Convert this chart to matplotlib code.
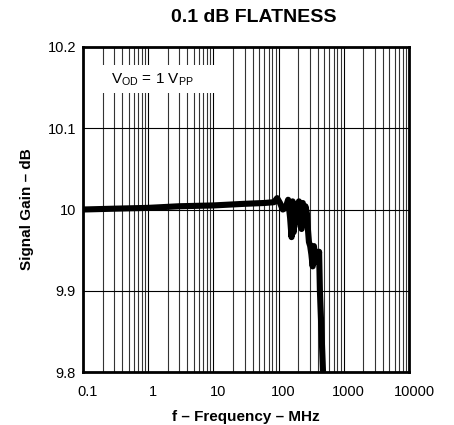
import matplotlib
matplotlib.use("Agg")
import matplotlib.pyplot as plt
import matplotlib.transforms as mtransforms
from matplotlib.patches import Rectangle
from matplotlib.ticker import FixedLocator, LogLocator, NullFormatter

plt.rcParams['font.family'] = ['Liberation Sans', 'DejaVu Sans']
plt.rcParams['mathtext.fontset'] = 'custom'
plt.rcParams['mathtext.rm'] = 'Liberation Sans'
plt.rcParams['mathtext.it'] = 'Liberation Sans'

# Data
freq_mhz = [0.1, 0.3, 1, 3, 10, 30, 60, 85, 95, 105, 116, 128, 140, 150, 158, 164,
            170, 176, 184, 195, 205, 215, 225, 235, 245, 258, 272, 282, 292, 305,
            318, 333, 348, 365, 385, 405, 418, 430, 480]
gain_db = [10.000, 10.001, 10.002, 10.004, 10.005, 10.007, 10.008, 10.009, 10.014,
           10.008, 10.000, 10.002, 10.012, 9.990, 9.966, 10.010, 9.972, 10.006,
           9.985, 10.002, 10.010, 9.980, 9.976, 10.008, 9.990, 10.004, 9.995,
           9.975, 9.960, 9.955, 9.945, 9.930, 9.955, 9.940, 9.948, 9.935, 9.948,
           9.900, 9.800]

x_ticks = [0.1, 1, 10, 100, 1000, 10000]
x_tick_labels = ['0.1', '1', '10', '100', '1000', '10000']
y_ticks = [9.8, 9.9, 10.0, 10.1, 10.2]
y_tick_labels = ['9.8', '9.9', '10', '10.1', '10.2']

fig = plt.figure(figsize=(4.54, 4.25), dpi=100)
ax = fig.add_axes([83/454, 1 - 372/425, 326/454, 325/425])

ax.set_xscale('log')
ax.set_xlim(0.1, 10000)
ax.set_ylim(9.8, 10.2)

ax.xaxis.set_major_locator(FixedLocator(x_ticks))
ax.set_xticklabels(x_tick_labels)
ax.xaxis.set_minor_locator(LogLocator(base=10, subs=range(2, 10), numticks=100))
ax.xaxis.set_minor_formatter(NullFormatter())
ax.set_yticks(y_ticks)
ax.set_yticklabels(y_tick_labels)

ax.grid(True, which='major', axis='both', color='black', linewidth=0.8)
ax.grid(True, which='minor', axis='x', color='#333333', linewidth=0.8)
ax.set_axisbelow(True)

ax.tick_params(axis='both', which='both', length=0, labelsize=10.5)
ax.tick_params(axis='x', pad=9)
ax.tick_params(axis='y', pad=5)

offset = mtransforms.ScaledTranslation(5/100, 0, fig.dpi_scale_trans)
for lab in ax.get_xticklabels():
    lab.set_transform(lab.get_transform() + offset)

for sp in ax.spines.values():
    sp.set_linewidth(2.0)
    sp.set_color('black')

# white label box
ax.add_patch(Rectangle((0.004, 0.858), 0.43, 0.087, transform=ax.transAxes,
                       facecolor='white', edgecolor='none', zorder=1.5))
ax.text(0.213, 0.9, r'V$_{\mathrm{OD}}$ = 1 V$_{\mathrm{PP}}$', transform=ax.transAxes,
        ha='center', va='center', fontsize=11, zorder=3)

ax.plot(freq_mhz, gain_db, color='black', linewidth=4.4,
        solid_joinstyle='round', solid_capstyle='round', zorder=4, clip_on=True)

fig.text(254/454, 1 - 18/425, '0.1 dB FLATNESS', ha='center', va='center',
         fontsize=14, fontweight='bold')
ax.set_xlabel('f – Frequency – MHz', fontsize=11, fontweight='bold', labelpad=8)
ax.set_ylabel('Signal Gain – dB', fontsize=11, fontweight='bold', labelpad=10)

fig.savefig('out.png', dpi=100)
